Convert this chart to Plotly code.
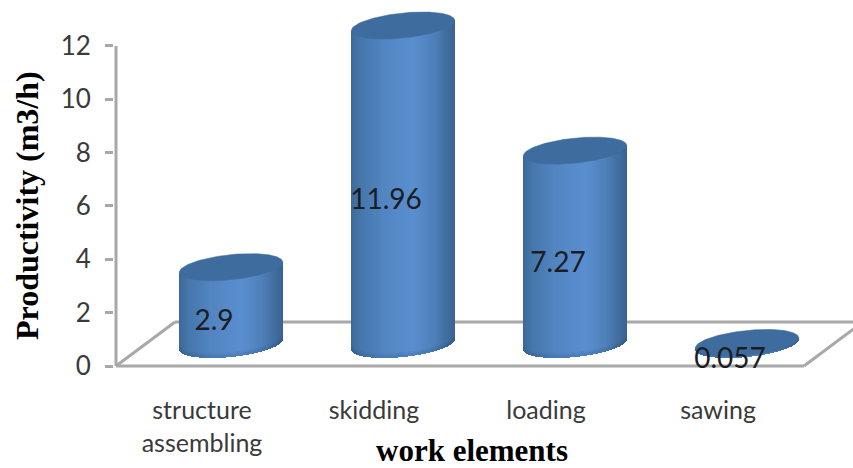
import numpy as np
import plotly.graph_objects as go

# Chart data
categories = ["structure<br>assembling", "skidding", "loading", "sawing"]
productivity = [2.9, 11.96, 7.27, 0.057]
value_labels = ["2.9", "11.96", "7.27", "0.057"]
y_ticks = [0, 2, 4, 6, 8, 10, 12]

# Scale of the drawing
PX_PER_CAT = 172.0
PX_PER_UNIT = 26.67
WIDTH, HEIGHT = 853, 468
LEFT, BOTTOM = 114, 86

# Pseudo-3D geometry, in pixels on the page
DEPTH_X, DEPTH_Y = 59.0, 44.0   # floor depth
SHIFT_X, SHIFT_Y = 29.0, 21.5   # cylinder axis relative to the category position
SEMI_A, SEMI_B = 52.0, 12.5     # cap ellipse
TILT = np.radians(6)

GREY = "#a8a8a8"
CAP = "#3f6c9f"
STOPS_F = [0.0, 0.1, 0.3, 0.6, 0.8, 0.93, 1.0]
STOPS_RGB = np.array([
    [60, 105, 155], [70, 120, 172], [82, 133, 193], [90, 143, 208],
    [78, 128, 185], [64, 108, 158], [58, 98, 145],
])


def ellipse(cx, cy):
    """Tilted cap outline in data units, for a centre given in data units."""
    t = np.linspace(0, 2 * np.pi, 181)
    px = SEMI_A * np.cos(t) * np.cos(TILT) - SEMI_B * np.sin(t) * np.sin(TILT)
    py = SEMI_A * np.cos(t) * np.sin(TILT) + SEMI_B * np.sin(t) * np.cos(TILT)
    return cx + px / PX_PER_CAT, cy + py / PX_PER_UNIT, px, py


fig = go.Figure()

base_y = SHIFT_Y / PX_PER_UNIT
half_w = int(SEMI_A)
offsets = np.arange(-half_w, half_w) + 0.5
fracs = (offsets + half_w) / (2 * half_w)
strip_colors = [
    "rgb(%d,%d,%d)" % tuple(np.interp(f, STOPS_F, STOPS_RGB[:, c]) for c in range(3))
    for f in fracs
]

for i, value in enumerate(productivity):
    cx = i + SHIFT_X / PX_PER_CAT
    _, _, ox, oy = ellipse(0, 0)
    # lower edge of the base ellipse, sampled under each vertical strip
    mask = np.sin(np.linspace(0, 2 * np.pi, 181)) < 0
    order = np.argsort(ox[mask])
    low_px = np.interp(offsets, ox[mask][order], oy[mask][order])
    mid_px = offsets * np.tan(TILT)
    strip_x = cx + offsets / PX_PER_CAT
    strip_base = base_y + low_px / PX_PER_UNIT
    strip_top = base_y + value + mid_px / PX_PER_UNIT

    # cylinder wall as narrow shaded strips
    fig.add_trace(go.Bar(
        x=strip_x, y=strip_top - strip_base, base=strip_base,
        width=1.0 / PX_PER_CAT, marker=dict(color=strip_colors, line_width=0),
        hoverinfo="skip", showlegend=False,
    ))
    # darker rim along the foot of the wall
    for rim_px, alpha in [(5, 0.06), (3, 0.08)]:
        rim_h = np.minimum(rim_px / PX_PER_UNIT, strip_top - strip_base)
        fig.add_trace(go.Bar(
            x=strip_x, y=rim_h, base=strip_base,
            width=1.0 / PX_PER_CAT,
            marker=dict(color=f"rgba(25,50,85,{alpha})", line_width=0),
            hoverinfo="skip", showlegend=False,
        ))
    # top cap
    ex, ey, _, _ = ellipse(cx, base_y + value)
    fig.add_trace(go.Scatter(
        x=ex, y=ey, mode="lines", fill="toself", fillcolor=CAP,
        line=dict(color=CAP, width=0.5), hoverinfo="skip", showlegend=False,
        cliponaxis=False,
    ))

# Value labels sit beside the middle of each cylinder
fig.add_trace(go.Scatter(
    x=[i + (SHIFT_X - 17) / PX_PER_CAT for i in range(len(productivity))],
    y=[base_y + v / 2 - 17 / PX_PER_UNIT for v in productivity],
    mode="text", text=value_labels,
    textfont=dict(family="Lato", size=28, color="#1c1c24"),
    hoverinfo="skip", showlegend=False, cliponaxis=False,
))

# Floor outline and vertical axis line
x0 = -0.5
x1 = x0 + len(categories)
dx, dy = DEPTH_X / PX_PER_CAT, DEPTH_Y / PX_PER_UNIT
line_style = dict(color=GREY, width=3)
segments = [
    (x0, 0, x1, 0), (x0, 0, x0 + dx, dy), (x1, 0, x1 + dx, dy),
    (x0 + dx, dy, x1 + dx, dy), (x0, 0, x0, max(y_ticks)),
]
shapes = [
    dict(type="line", xref="x", yref="y", x0=a, y0=b, x1=c, y1=d,
         line=line_style, layer="below")
    for a, b, c, d in segments
]

fig.update_layout(
    width=WIDTH, height=HEIGHT,
    margin=dict(l=LEFT, r=0, t=0, b=BOTTOM, autoexpand=False),
    paper_bgcolor="white", plot_bgcolor="white",
    barmode="overlay", bargap=0, showlegend=False,
    shapes=shapes,
    xaxis=dict(
        range=[x0 - (116 - LEFT) / PX_PER_CAT, (WIDTH - 116) / PX_PER_CAT + x0],
        tickvals=list(range(len(categories))), ticktext=categories,
        showgrid=False, zeroline=False, showline=False, ticks="",
        ticklabelstandoff=11,
        tickfont=dict(family="Lato", size=25, color="#3a3a3a"),
    ),
    yaxis=dict(
        range=[-(HEIGHT - BOTTOM - 366) / PX_PER_UNIT, 366 / PX_PER_UNIT],
        tickvals=y_ticks, showgrid=False, zeroline=False, showline=False,
        ticks="outside", ticklen=8, tickwidth=3, tickcolor=GREY,
        ticklabelstandoff=9,
        tickfont=dict(family="Lato", size=26, color="#3a3a3a"),
    ),
    annotations=[
        dict(text="<b>Productivity (m3/h)</b>", xref="paper", yref="paper",
             x=(27 - LEFT) / (WIDTH - LEFT), y=(HEIGHT - BOTTOM - 206) / (HEIGHT - BOTTOM),
             xanchor="center", yanchor="middle", textangle=-90, showarrow=False,
             font=dict(family="Liberation Serif", size=32, color="black")),
        dict(text="<b>work elements</b>", xref="paper", yref="paper",
             x=(472 - LEFT) / (WIDTH - LEFT), y=(HEIGHT - BOTTOM - 450) / (HEIGHT - BOTTOM),
             xanchor="center", yanchor="middle", showarrow=False,
             font=dict(family="Liberation Serif", size=31, color="black")),
    ],
)

fig.write_html("out.html")
